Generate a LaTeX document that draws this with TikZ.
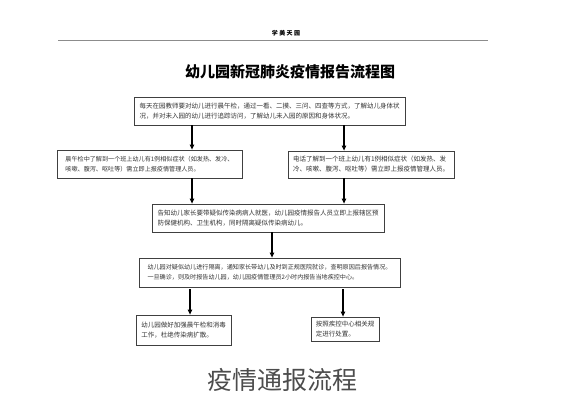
\documentclass[tikz,border=0pt]{standalone}
\usepackage{fontspec}
\newfontfamily\cjk{Noto Sans CJK SC}
\XeTeXlinebreaklocale "zh"
\XeTeXlinebreakskip = 0pt plus 1pt
\usetikzlibrary{arrows.meta, positioning}
\tikzset{
	flowbox/.style={
			draw=black!75,
			line width=0.8pt,
			fill=white,
			inner sep=0pt,
			align=left,
			text=black!80,
			font=\cjk\fontsize{6.5}{10}\selectfont
		},
	smallbox/.style={
			flowbox,
			font=\cjk\fontsize{6.1}{10}\selectfont
		},
	flowarrow/.style={
			-{Triangle[length=5pt,width=4.5pt]},
			line width=1.1pt,
			black
		}
}

\begin{document}
\begin{tikzpicture}[x=1pt, y=-1pt]
\useasboundingbox (0,0) rectangle (565,400);

% header and title
\node[font=\cjk\bfseries\fontsize{6}{6}\selectfont] (tHead) at (286,33) {学 美 天 园};
\draw[black!45, line width=1pt] (58,40) -- (488,40);
\node[font=\cjk\bfseries\fontsize{15}{15}\selectfont] (tTitle) at (290,72) {幼儿园新冠肺炎疫情报告流程图};

% boxes
\node[flowbox, minimum width=271pt, minimum height=28pt] (tCheck) at (269.5,111)
  {每天在园教师要对幼儿进行晨午检，通过一看、二摸、三问、四查等方式，了解幼儿身体状\\况，并对未入园的幼儿进行追踪访问，了解幼儿未入园的原因和身体状况。};
\node[smallbox, minimum width=185pt, minimum height=28pt] (tLeft) at (149.5,164)
  {晨午检中了解到一个班上幼儿有1例相似症状（如发热、发冷、\\咳嗽、腹泻、呕吐等）需立即上报疫情管理人员。};
\node[flowbox, minimum width=166pt, minimum height=27pt] (tRight) at (371,164.5)
  {电话了解到一个班上幼儿有1例相似症状（如发热、发\\冷、咳嗽、腹泻、呕吐等）需立即上报疫情管理人员。};
\node[flowbox, minimum width=232pt, minimum height=28pt] (tReport) at (268,218)
  {告知幼儿家长要带疑似传染病病人就医，幼儿园疫情报告人员立即上报辖区预\\防保健机构、卫生机构，同时隔离疑似传染病幼儿。};
\node[smallbox, minimum width=261pt, minimum height=29pt] (tIsolate) at (269.5,272.5)
  {幼儿园对疑似幼儿进行隔离，通知家长带幼儿及时到正规医院就诊，查明原因后报告情况。\\一旦确诊，则及时报告幼儿园，幼儿园疫情管理员2小时内报告当地疾控中心。};
\node[flowbox, minimum width=95pt, minimum height=30pt] (tClean) at (183.5,330)
  {幼儿园做好加强晨午检和消毒\\工作，杜绝传染病扩散。};
\node[flowbox, minimum width=68pt, minimum height=24pt] (tHandle) at (345,329)
  {按照疾控中心相关规\\定进行处置。};

% arrow columns
\coordinate (xL) at (192,0);
\coordinate (xR) at (344,0);
\coordinate (xM) at (272,0);
\coordinate (xBL) at (190,0);
\coordinate (xBR) at (343,0);

\draw[flowarrow] (tCheck.south -| xL) -- (tLeft.north -| xL);
\draw[flowarrow] (tCheck.south -| xR) -- (tRight.north -| xR);
\draw[flowarrow] (tLeft.south -| xL) -- (tReport.north -| xL);
\draw[flowarrow] (tRight.south -| xR) -- (tReport.north -| xR);
\draw[flowarrow] (tReport.south -| xM) -- (tIsolate.north -| xM);
\draw[flowarrow, shorten <=2pt] (tIsolate.south -| xBL) -- (tClean.north -| xBL);
\draw[flowarrow, shorten <=2pt] (tIsolate.south -| xBR) -- (tHandle.north -| xBR);

% caption
\node[font=\cjk\fontsize{25}{25}\selectfont, text=black!70] (tCaption) at (282,380) {疫情通报流程};
\end{tikzpicture}
\end{document}
